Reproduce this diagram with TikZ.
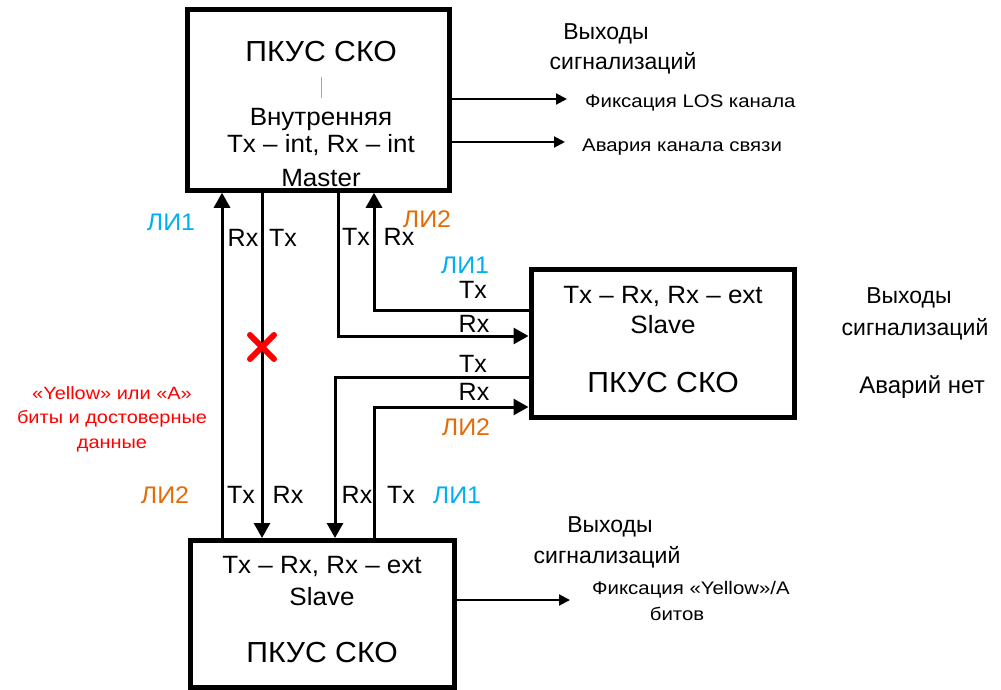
\documentclass[tikz,border=0pt]{standalone}
\usepackage{fontspec}
\setmainfont{Liberation Sans}
\newfontfamily\boxfont{Liberation Sans}[FakeStretch=1.04]
\newfontfamily\smallfont{Liberation Sans}[FakeStretch=1.12]
\usetikzlibrary{arrows.meta,calc}
\definecolor{licyan}{HTML}{00B0F0}
\definecolor{liorange}{HTML}{E36C09}
\definecolor{redtxt}{HTML}{FF0000}
\begin{document}
\begin{tikzpicture}[x=1pt,y=-1pt,
  blk/.style={draw,line width=5pt,inner sep=0pt},
  wire/.style={line width=3pt},
  arr/.style={wire,-{Triangle[length=15pt,width=16pt]}},
  outarr/.style={line width=2pt,-{Triangle[length=11pt,width=11pt]}},
  txt/.style={inner sep=0pt,anchor=base},
  boxbig/.style={txt,font=\boxfont\fontsize{29}{33}\selectfont},
  boxmid/.style={txt,font=\boxfont\fontsize{25}{29}\selectfont},
  lbl/.style={txt,font=\fontsize{25}{30}\selectfont},
  li/.style={txt,font=\boxfont\fontsize{24}{28}\selectfont},
  outt/.style={txt,font=\fontsize{23}{27}\selectfont},
  small/.style={txt,font=\smallfont\fontsize{18.2}{21}\selectfont},
  redt/.style={txt,text=redtxt,font=\smallfont\fontsize{17.8}{21}\selectfont}]
\useasboundingbox (0,0) rectangle (1001,690);

% boxes
\node[blk,minimum width=262pt,minimum height=180.5pt] (top) at (318.5,100) {};
\node[blk,minimum width=263.5pt,minimum height=148pt] (right) at (662.75,343.5) {};
\node[blk,minimum width=264pt,minimum height=147pt] (bot) at (322.5,614) {};

% box texts
\node[boxbig] (t1) at (321,62) {ПКУС СКО};
\draw[gray!70,line width=1pt] (321,77) -- (321,98);
\node[boxmid] (t2) at (321,125) {Внутренняя};
\node[boxmid] (t3) at (321,153) {Tx – int, Rx – int};
\node[boxmid] (t4) at (321,186) {Master};

\node[boxmid] (r1) at (663,303) {Tx – Rx, Rx – ext};
\node[boxmid] (r2) at (663,333) {Slave};
\node[boxbig] (r3) at (663,392) {ПКУС СКО};

\node[boxmid] (b1) at (322,573) {Tx – Rx, Rx – ext};
\node[boxmid] (b2) at (322,605) {Slave};
\node[boxbig] (b3) at (322,662) {ПКУС СКО};

% wire positions
\coordinate (xa) at (222,0);
\coordinate (xb) at (262,0);
\coordinate (xc) at (338,0);
\coordinate (xd) at (374,0);
\coordinate (xe) at (335,0);
\coordinate (y1) at (0,310);
\coordinate (y2) at (0,336);
\coordinate (y3) at (0,377);
\coordinate (y4) at (0,407);

\draw[arr] (bot.north -| xa) -- (top.south -| xa);
\draw[arr] (top.south -| xb) -- (bot.north -| xb);
\draw[arr] (top.south -| xc) |- (right.west |- y2);
\draw[arr] (right.west |- y1) -| (top.south -| xd);
\draw[arr] (right.west |- y3) -| (bot.north -| xe);
\draw[arr] (bot.north -| xd) |- (right.west |- y4);

% red cross
\coordinate (xx) at (262,347);
\draw[redtxt,line width=6pt,line cap=round] ($(xx)+(-12,-12)$) -- ($(xx)+(12,12)$);
\draw[redtxt,line width=6pt,line cap=round] ($(xx)+(-12,12)$) -- ($(xx)+(12,-12)$);

% wire labels
\node[lbl] (l1) at (243,246) {Rx};
\node[lbl] (l2) at (283,246) {Tx};
\node[lbl] (l3) at (356,245) {Tx};
\node[lbl] (l4) at (399,245) {Rx};
\node[li,text=liorange] (l5) at (427,227) {ЛИ2};
\node[li,text=licyan] (l6) at (465,273) {ЛИ1};
\node[lbl] (l7) at (473,298) {Tx};
\node[lbl] (l8) at (474,332) {Rx};
\node[lbl] (l9) at (473,372) {Tx};
\node[lbl] (l10) at (474,400) {Rx};
\node[li,text=liorange] (l11) at (466,435) {ЛИ2};
\node[lbl] (l12) at (241,503) {Tx};
\node[lbl] (l13) at (288,503) {Rx};
\node[lbl] (l14) at (357,503) {Rx};
\node[lbl] (l15) at (401,503) {Tx};
\node[li,text=licyan] (l16) at (457,503) {ЛИ1};
\node[li,text=licyan] (l17) at (171,230) {ЛИ1};
\node[li,text=liorange] (l18) at (165,503) {ЛИ2};

% red note
\node[redt] (n1) at (112,399) {«Yellow» или «А»};
\node[redt] (n2) at (112,423) {биты и достоверные};
\node[redt] (n3) at (112,448) {данные};

% outputs top
\node[outt] (o1) at (606,40) {Выходы};
\node[outt] (o2) at (623,70) {сигнализаций};
\coordinate (a1) at (567,99);
\coordinate (a2) at (565,142);
\draw[outarr] (top.east |- a1) -- (a1);
\draw[outarr] (top.east |- a2) -- (a2);
\node[small,anchor=base west] (s1) at (585,108) {Фиксация LOS канала};
\node[small,anchor=base west] (s2) at (582,151) {Авария канала связи};

% outputs right
\node[outt] (o3) at (909,303) {Выходы};
\node[outt] (o4) at (915,335) {сигнализаций};
\node[txt,font=\fontsize{24}{28}\selectfont] (o5) at (922,393) {Аварий нет};

% outputs bottom
\node[outt] (o6) at (610,532) {Выходы};
\node[outt] (o7) at (607,563) {сигнализаций};
\coordinate (a3) at (570,600);
\draw[outarr] (bot.east |- a3) -- (a3);
\node[small,anchor=base west] (s3) at (592,594) {Фиксация «Yellow»/А};
\node[small] (s4) at (677,620) {битов};
\end{tikzpicture}
\end{document}
